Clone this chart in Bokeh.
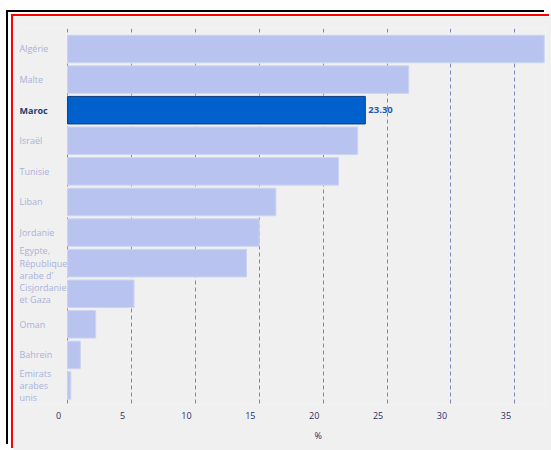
from bokeh.plotting import figure
from bokeh.models import Range1d, LinearAxis, FixedTicker, Label, ColumnDataSource, Grid, Title
from bokeh.embed import file_html
from bokeh.resources import INLINE
from bokeh.core.properties import value

# ---- data ----
countries = ["Algérie", "Malte", "Maroc", "Israël", "Tunisie", "Liban", "Jordanie",
             "Egypte, République arabe d'", "Cisjordanie et Gaza", "Oman", "Bahrein",
             "Emirats arabes unis"]
country_labels = ["Algérie", "Malte", "Maroc", "Israël", "Tunisie", "Liban", "Jordanie",
                  "Egypte,\nRépublique\narabe d'", "Cisjordanie\net Gaza", "Oman", "Bahrein",
                  "Emirats\narabes\nunis"]
values = [37.3, 26.7, 23.30, 22.7, 21.2, 16.3, 15.0, 14.0, 5.2, 2.2, 1.0, 0.25]
highlight = "Maroc"
x_ticks = [0, 5, 10, 15, 20, 25, 30, 35]
x_title = "%"

# ---- styling ----
FONT = "Open Sans"
BG = "#f0f0f0"
BAR = "#b9c3ef"
BAR_LINE = "#cdd4f3"
HL = "#0060cc"
HL_LINE = "#0b3d7c"
X_MIN, X_MAX = -3.92, 37.4     # left part of the frame holds the category labels
LAB_SHIFT = 0.7                # tick labels sit just left of their gridline

n = len(countries)
idx = list(range(n))
fills = [HL if c == highlight else BAR for c in countries]
lines = [HL_LINE if c == highlight else BAR_LINE for c in countries]
src = ColumnDataSource(dict(y=idx, right=values, fill=fills, line=lines))

p = figure(width=538, height=434,
           x_range=Range1d(X_MIN, X_MAX), y_range=Range1d(n - 0.38, -0.67),
           output_backend="svg", toolbar_location=None,
           min_border_left=4, min_border_right=6, min_border_top=12, min_border_bottom=46,
           background_fill_color=BG, border_fill_color=BG, outline_line_color=None,
           x_axis_location=None, y_axis_location=None)
p.styles = {"position": "absolute", "left": "13px", "top": "16px",
            "box-shadow": "-2px -2px 0 0 #ff0000, -5px -4px 0 0 #ffffff, -7px -6px 0 0 #000000"}
for g in list(p.center):
    g.visible = False

p.add_layout(Grid(dimension=0, ticker=FixedTicker(ticks=x_ticks),
                  grid_line_color="#7f88b5", grid_line_dash="4 3", grid_line_width=1), "center")

p.hbar(y="y", right="right", left=0, height=0.9, source=src,
       fill_color="fill", line_color="line", line_width=1)

# value label for highlighted bar
k = countries.index(highlight)
p.text(x=[values[k]], y=[k], text=[f"{values[k]:.2f}"], x_offset=3,
       text_align="left", text_baseline="middle", text_font=value(FONT),
       text_font_size="9.5px", text_font_style="bold", text_color="#1d5cb8")

# x axis tick labels
p.extra_x_ranges = {"lab": Range1d(X_MIN + LAB_SHIFT, X_MAX + LAB_SHIFT)}
ax = LinearAxis(x_range_name="lab", ticker=FixedTicker(ticks=x_ticks),
                axis_line_color=None, major_tick_line_color=None, minor_tick_line_color=None,
                major_label_text_font=FONT, major_label_text_font_size="9px",
                major_label_text_color="#2e2e5e", major_label_standoff=1)
p.add_layout(ax, "below")

# axis title "%"
p.add_layout(Title(text=x_title, align="left", offset=297, standoff=11,
                   text_font=FONT, text_font_size="9px", text_font_style="normal",
                   text_color="#2e2e5e"), "below")

# category labels (left aligned)
for i, (c, lab) in enumerate(zip(countries, country_labels)):
    p.add_layout(Label(x=2, x_units="screen", y=i, text=lab,
                       text_align="left", text_baseline="middle",
                       text_font=FONT, text_font_size="9px",
                       text_line_height=0.95,
                       text_color="#1f3c73" if c == highlight else "#aab2da",
                       text_font_style="bold" if c == highlight else "normal"))

open("out.html", "w").write(file_html(p, INLINE))
